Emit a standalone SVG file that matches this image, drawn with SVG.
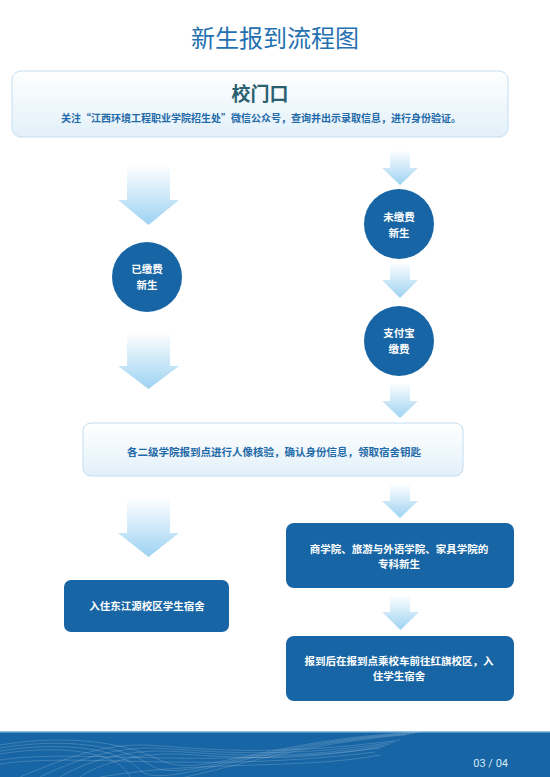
<svg xmlns="http://www.w3.org/2000/svg" width="550" height="777" viewBox="0 0 550 777">
<defs>
<linearGradient id="arrowGrad" x1="0" y1="0" x2="0" y2="1">
<stop offset="0" stop-color="#ffffff"/>
<stop offset="1" stop-color="#9dd2f2"/>
</linearGradient>
<linearGradient id="boxGrad" x1="0" y1="0" x2="0" y2="1">
<stop offset="0" stop-color="#ffffff"/>
<stop offset="1" stop-color="#e2f0f9"/>
</linearGradient>
<clipPath id="footClip"><rect x="0" y="732" width="550" height="45"/></clipPath>
</defs>
<style>
.arrow{fill:url(#arrowGrad)}
.light{fill:url(#boxGrad);stroke:#c4def0;stroke-width:1}
.dark{fill:#1765a4}
.t{font-family:"Noto Sans CJK SC","Noto Sans",sans-serif;font-weight:bold;text-anchor:middle}
.w{fill:#ffffff;font-size:10.5px}
.wave{fill:none;stroke:#ffffff;stroke-width:0.5;stroke-opacity:0.35}
</style>
<rect x="0" y="0" width="550" height="777" fill="#ffffff"/>
<text class="t" x="275" y="47" font-size="24" style="font-weight:normal" fill="#2470b0">新生报到流程图</text>

<g id="connectors">
<path class="arrow" d="M127 165 H170 V200 H179 L148.5 225 L118 200 H127 Z"/>
<path class="arrow" d="M127 332 H170 V366 H179 L148.5 389 L118 366 H127 Z"/>
<path class="arrow" d="M127 498 H170 V533 H179 L148.5 557 L118 533 H127 Z"/>
<path class="arrow" d="M390 150 H410 V168 H418 L400 185 L382 168 H390 Z"/>
<path class="arrow" d="M390 262 H410 V280 H418 L400 298 L382 280 H390 Z"/>
<path class="arrow" d="M390 383 H410 V401 H418 L400 418 L382 401 H390 Z"/>
<path class="arrow" d="M390 484 H410 V501 H418 L400 518 L382 501 H390 Z"/>
<path class="arrow" d="M390 595 H410 V612 H419 L400.5 630 L382 612 H390 Z"/>
</g>

<g id="node-gate">
<rect class="light" x="12" y="71" width="496" height="66" rx="9"/>
<text class="t" x="260" y="101" font-size="19" fill="#2a6070">校门口</text>
<text class="t" x="261" y="122" font-size="10" fill="#1f6aa8">关注“江西环境工程职业学院招生处”微信公众号，查询并出示录取信息，进行身份验证。</text>
</g>

<g id="node-unpaid">
<circle class="dark" cx="399" cy="224" r="35"/>
<text class="t w" x="399" y="221">未缴费</text>
<text class="t w" x="399" y="237">新生</text>
</g>

<g id="node-paid">
<circle class="dark" cx="147" cy="277" r="35"/>
<text class="t w" x="147" y="273">已缴费</text>
<text class="t w" x="147" y="289">新生</text>
</g>

<g id="node-alipay">
<circle class="dark" cx="399" cy="341" r="35"/>
<text class="t w" x="399" y="337">支付宝</text>
<text class="t w" x="399" y="353">缴费</text>
</g>

<g id="node-college">
<rect class="light" x="83" y="423" width="380" height="53" rx="8"/>
<text class="t" x="274" y="456" font-size="10.5" fill="#1f6aa8">各二级学院报到点进行人像核验，确认身份信息，领取宿舍钥匙</text>
</g>

<g id="node-dongjiang">
<rect class="dark" x="64" y="580" width="165" height="52" rx="7"/>
<text class="t w" x="147" y="610">入住东江源校区学生宿舍</text>
</g>

<g id="node-colleges3">
<rect class="dark" x="286" y="523" width="228" height="65" rx="8"/>
<text class="t w" x="399" y="553">商学院、旅游与外语学院、家具学院的</text>
<text class="t w" x="399" y="568">专科新生</text>
</g>

<g id="node-hongqi">
<rect class="dark" x="286" y="636" width="228" height="65" rx="8"/>
<text class="t w" x="399" y="665">报到后在报到点乘校车前往红旗校区，入</text>
<text class="t w" x="399" y="680">住学生宿舍</text>
</g>

<g id="footer">
<rect x="0" y="732" width="550" height="45" fill="#1765a4"/>
<rect x="0" y="731" width="550" height="1.5" fill="#8fc4e8"/>
<g clip-path="url(#footClip)">
<path class="wave" d="M0 745 C60 735 120 740 160 760 S260 740 420 732"/>
<path class="wave" d="M0 748 C60 738 120 744 150 765 S260 742 415 733"/>
<path class="wave" d="M0 751 C60 741 120 748 140 770 S260 744 410 734"/>
<path class="wave" d="M0 754 C60 744 120 752 130 777 S260 746 405 735"/>
<path class="wave" d="M20 777 C60 760 100 745 140 745 S250 760 400 740"/>
<path class="wave" d="M40 777 C70 762 110 748 150 748 S260 762 395 742"/>
<path class="wave" d="M60 777 C80 764 120 751 160 751 S270 764 390 744"/>
<path class="wave" d="M80 777 C95 766 130 754 170 754 S280 766 385 746"/>
<path class="wave" d="M0 760 C80 748 200 770 380 748"/>
<path class="wave" d="M0 764 C80 752 200 774 375 752"/>
<path class="wave" d="M100 777 C200 760 300 770 380 755"/>
</g>
<text x="508" y="767" font-family="Roboto, 'Liberation Sans', sans-serif" font-size="11" fill="#d6e8f5" text-anchor="end">03 / 04</text>
</g>
</svg>
